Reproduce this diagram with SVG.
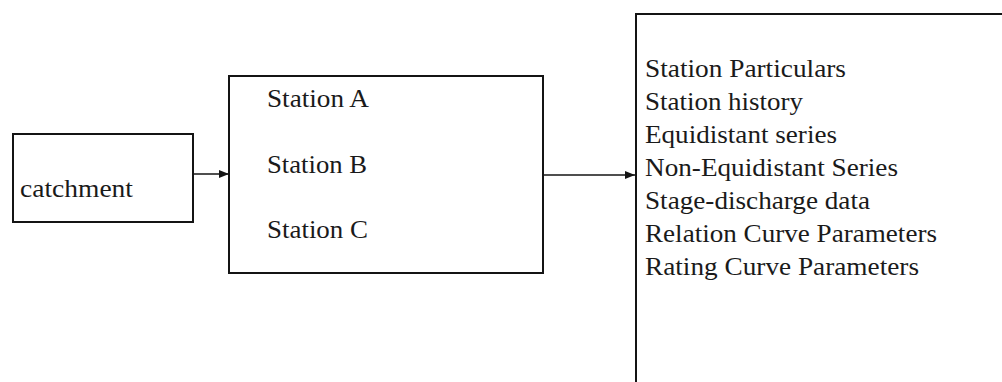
<svg xmlns="http://www.w3.org/2000/svg" width="1002" height="382" viewBox="0 0 1002 382">
  <style>
    .box { fill: #ffffff; stroke: #141414; stroke-width: 2; }
    .lbl { font-family: "Liberation Serif", "Times New Roman", serif; font-size: 26px; fill: #1a1a1a; }
    .conn { stroke: #141414; stroke-width: 1.6; fill: none; }
  </style>
  <defs>
    <marker id="arrow" viewBox="0 0 10 10" refX="10" refY="5" markerWidth="10" markerHeight="10" markerUnits="userSpaceOnUse" orient="auto">
      <path d="M0,1 L10,5 L0,9 z" fill="#141414"/>
    </marker>
  </defs>
  <rect width="1002" height="382" fill="#ffffff"/>

  <g id="catchment">
    <rect class="box" x="13" y="134" width="180" height="88"/>
    <text class="lbl" x="20" y="197" textLength="113" lengthAdjust="spacingAndGlyphs">catchment</text>
  </g>

  <g id="stations">
    <rect class="box" x="229" y="76" width="314" height="197"/>
    <text class="lbl" x="267" y="107" textLength="102" lengthAdjust="spacingAndGlyphs">Station A</text>
    <text class="lbl" x="267" y="173" textLength="100" lengthAdjust="spacingAndGlyphs">Station B</text>
    <text class="lbl" x="267" y="238" textLength="101" lengthAdjust="spacingAndGlyphs">Station C</text>
  </g>

  <g id="data-items">
    <rect class="box" x="636" y="14" width="380" height="390"/>
    <text class="lbl" x="645" y="77" textLength="201" lengthAdjust="spacingAndGlyphs">Station Particulars</text>
    <text class="lbl" x="645" y="110" textLength="158" lengthAdjust="spacingAndGlyphs">Station history</text>
    <text class="lbl" x="645" y="143" textLength="192" lengthAdjust="spacingAndGlyphs">Equidistant series</text>
    <text class="lbl" x="645" y="176" textLength="253" lengthAdjust="spacingAndGlyphs">Non-Equidistant Series</text>
    <text class="lbl" x="645" y="209" textLength="225" lengthAdjust="spacingAndGlyphs">Stage-discharge data</text>
    <text class="lbl" x="645" y="242" textLength="292" lengthAdjust="spacingAndGlyphs">Relation Curve Parameters</text>
    <text class="lbl" x="645" y="275" textLength="274" lengthAdjust="spacingAndGlyphs">Rating Curve Parameters</text>
  </g>

  <g id="connectors">
    <line class="conn" x1="193" y1="174" x2="229" y2="174" marker-end="url(#arrow)"/>
    <line class="conn" x1="543" y1="175" x2="635" y2="175" marker-end="url(#arrow)"/>
  </g>
</svg>
